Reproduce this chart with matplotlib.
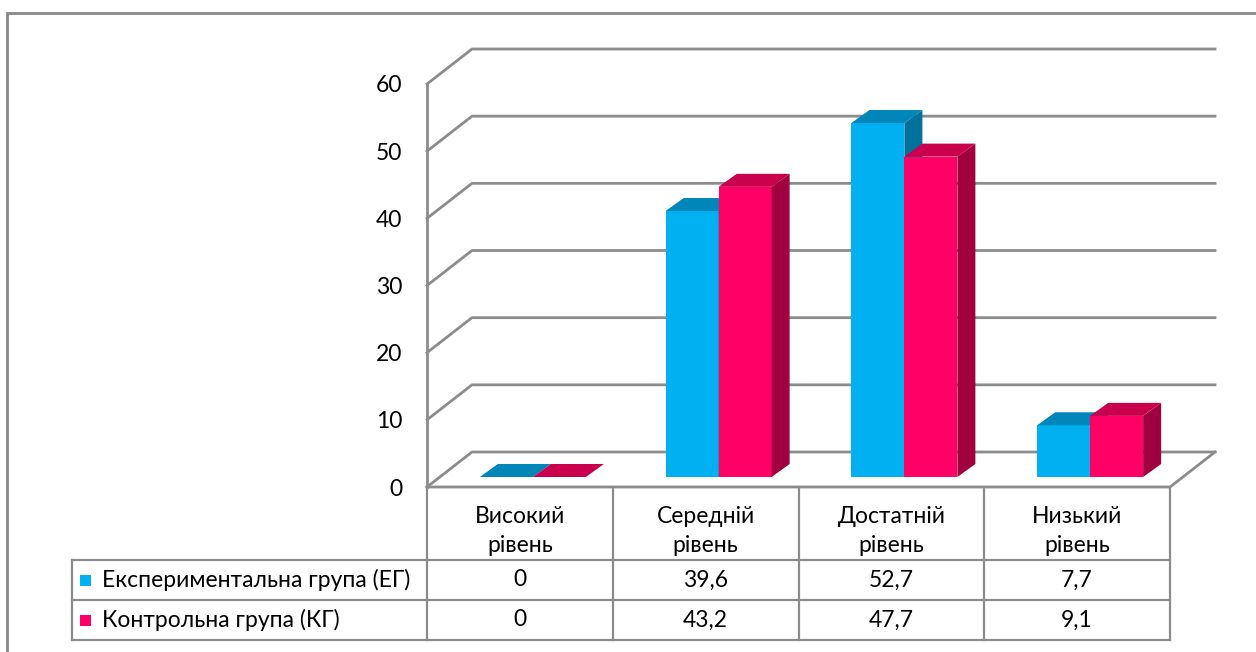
import matplotlib
matplotlib.use('Agg')
import matplotlib.pyplot as plt
from matplotlib.patches import Polygon, Rectangle

# data
categories = ['Високий\nрівень', 'Середній\nрівень', 'Достатній\nрівень', 'Низький\nрівень']
series_names = ['Експериментальна група (ЕГ)', 'Контрольна група (КГ)']
eg_values = [0, 39.6, 52.7, 7.7]
kg_values = [0, 43.2, 47.7, 9.1]
yticks = [0, 10, 20, 30, 40, 50, 60]

# colours: front, top, side
EG_COLORS = ('#00B0F0', '#0086B8', '#00729C')
KG_COLORS = ('#FF0066', '#C8004E', '#A0003F')
GRID = '#8C8C8C'

plt.rcParams['font.family'] = ['Lato', 'DejaVu Sans']
FS = 16.5

W, H = 1256, 652
fig = plt.figure(figsize=(W / 100, H / 100), dpi=100)
# front plane of the plot area
ax = fig.add_axes([427 / W, (H - 487) / H, 743 / W, 403 / H])
ax.set_xlim(-0.5, len(categories) - 0.5)
ax.set_ylim(0, 60)
for s in ax.spines.values():
    s.set_visible(False)
ax.set_xticks([])
ax.set_yticks(yticks)
ax.set_yticklabels([str(t) for t in yticks], fontsize=FS, color='black')
ax.tick_params(axis='y', length=0, pad=18)
ax.patch.set_visible(False)

# pixel -> data conversion
xpp = len(categories) / 743
ypp = 60 / 403
xmin, xmax = -0.5, len(categories) - 0.5

# depth offsets (pixels)
floor_dx, floor_dy = 45, 35
bar_fx, bar_fy = 13, 10
bar_dx, bar_dy = 18, 13

# back wall gridlines with the left side-wall diagonal
for v in yticks:
    ax.plot([xmin, xmin + floor_dx * xpp, xmax + floor_dx * xpp],
            [v, v + floor_dy * ypp, v + floor_dy * ypp],
            color=GRID, lw=2, clip_on=False, zorder=1)
ax.plot([xmin, xmin], [0, 60], color=GRID, lw=2, clip_on=False, zorder=1)
ax.plot([xmin, xmax, xmax + floor_dx * xpp], [0, 0, floor_dy * ypp],
        color=GRID, lw=2, clip_on=False, zorder=1)

# 3D-looking bars
bw = 53 * xpp
z = 2
for i in range(len(categories)):
    for s, (vals, cols) in enumerate([(eg_values, EG_COLORS), (kg_values, KG_COLORS)]):
        v = vals[i]
        x0 = i + (s - 1) * bw + bar_fx * xpp
        y0 = bar_fy * ypp
        dx, dy = bar_dx * xpp, bar_dy * ypp
        ax.bar(x0, v, width=bw, bottom=y0, align='edge', color=cols[0],
               lw=0, zorder=z, clip_on=False)
        top = [(x0, y0 + v), (x0 + bw, y0 + v), (x0 + bw + dx, y0 + v + dy), (x0 + dx, y0 + v + dy)]
        side = [(x0 + bw, y0), (x0 + bw, y0 + v), (x0 + bw + dx, y0 + v + dy), (x0 + bw + dx, y0 + dy)]
        ax.add_patch(Polygon(side, closed=True, color=cols[2], lw=0, zorder=z, clip_on=False))
        ax.add_patch(Polygon(top, closed=True, color=cols[1], lw=0, zorder=z, clip_on=False))
        z += 1

# data table under the chart
r1, r2, r3 = -73 * ypp, -113 * ypp, -153 * ypp
xl = xmin - 355 * xpp
tl = dict(color=GRID, lw=1.6, clip_on=False, zorder=1)
for k in range(len(categories) + 1):
    ax.plot([xmin + k, xmin + k], [0, r3], **tl)
ax.plot([xl, xl], [r1, r3], **tl)
for r in (r1, r2, r3):
    ax.plot([xl, xmax], [r, r], **tl)

fmt = lambda v: ('%g' % v).replace('.', ',')
for i, c in enumerate(categories):
    ax.text(i, -44 * ypp, c, ha='center', va='center', fontsize=FS,
            linespacing=1.5, clip_on=False, color='black')
    ax.text(i, (r1 + r2) / 2, fmt(eg_values[i]), ha='center', va='center', fontsize=FS, color='black')
    ax.text(i, (r2 + r3) / 2, fmt(kg_values[i]), ha='center', va='center', fontsize=FS, color='black')

for name, cols, (ra, rb) in zip(series_names, [EG_COLORS, KG_COLORS], [(r1, r2), (r2, r3)]):
    yc = (ra + rb) / 2
    ax.add_patch(Rectangle((xl + 8 * xpp, yc - 5.5 * ypp), 11 * xpp, 11 * ypp,
                           color=cols[0], lw=0, clip_on=False))
    ax.text(xl + 30 * xpp, yc, name, ha='left', va='center', fontsize=FS, color='black')

# chart area border (runs off the right and bottom edges)
fig.add_artist(Rectangle((7 / W, -0.1), 1.2, (H - 13) / H + 0.1, transform=fig.transFigure,
                         fill=False, edgecolor='#878787', lw=2))

fig.savefig('out.png', dpi=100)
